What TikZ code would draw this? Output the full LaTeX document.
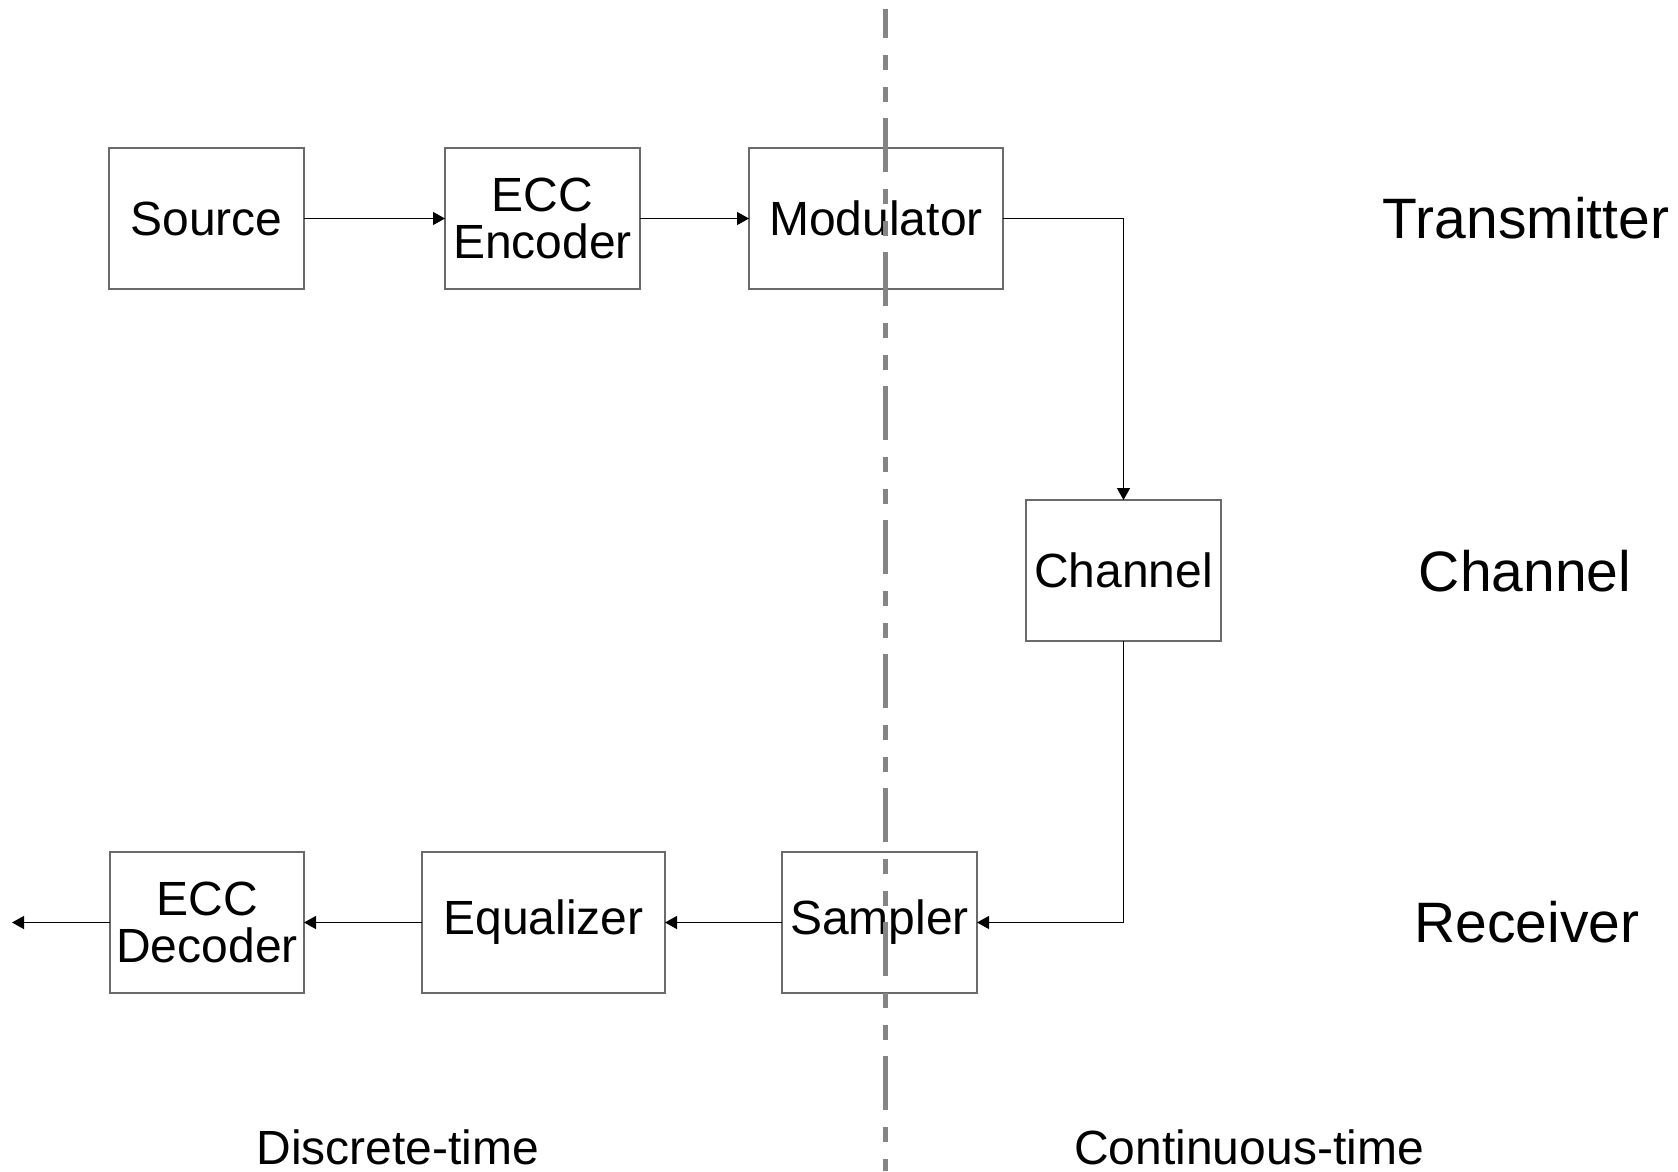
\documentclass[tikz,border=0pt]{standalone}
\usepackage{fontspec}
\setmainfont{Liberation Sans}
\usetikzlibrary{arrows.meta}
\definecolor{boxgray}{HTML}{6A6A6A}
\definecolor{divgray}{HTML}{858585}
\tikzset{
  blk/.style={draw=boxgray, line width=1.4pt, fill=white, inner sep=0pt, outer sep=0pt,
    minimum height=141pt, align=center, font=\fontsize{48}{47}\selectfont},
  conn/.style={draw=black, line width=1.2pt, -{Triangle[length=12pt,width=13pt]}},
  sidelabel/.style={inner sep=0pt, font=\fontsize{57}{64}\selectfont},
  bottomlabel/.style={inner sep=0pt, font=\fontsize{48}{53}\selectfont},
  divider/.style={draw=divgray, line width=5pt,
    dash pattern=on 54pt off 17pt on 15pt off 17pt on 15pt off 16pt, dash phase=25pt}
}
\begin{document}
\begin{tikzpicture}[x=1pt,y=-1pt]
\useasboundingbox (0,0) rectangle (1678,1171);
\fill[white] (0,0) rectangle (1678,1171);

\node[blk, minimum width=195pt] (source) at (206.5,218.5) {Source};
\node[blk, minimum width=195pt] (enc) at (542.5,218.5) {ECC\\Encoder};
\node[blk, minimum width=254pt] (mod) at (876,218.5) {Modulator};
\node[blk, minimum width=195pt] (chan) at (1123.5,570.5) {Channel};
\node[blk, minimum width=195pt] (samp) at (879.5,922.5) {Sampler};
\node[blk, minimum width=243pt] (eq) at (543.5,922.5) {Equalizer};
\node[blk, minimum width=194pt] (dec) at (207,922.5) {ECC\\Decoder};
\coordinate (out) at (12,922.5);

\draw[conn] (source.east) -- (enc.west);
\draw[conn] (enc.east) -- (mod.west);
\draw[conn] (mod.east) -| (chan.north);
\draw[conn] (chan.south) |- (samp.east);
\draw[conn] (samp.west) -- (eq.east);
\draw[conn] (eq.west) -- (dec.east);
\draw[conn] (dec.west) -- (out);

\node[sidelabel] (ltx) at (1526,218) {Transmitter};
\node[sidelabel] (lch) at (1525,571) {Channel};
\node[sidelabel] (lrx) at (1527,922) {Receiver};
\node[bottomlabel] (ldt) at (398,1147) {Discrete-time};
\node[bottomlabel] (lct) at (1249,1147) {Continuous-time};

\coordinate (dtop) at (885.5,9);
\coordinate (dbot) at (885.5,1171);
\draw[divider] (dtop) -- (dbot);
\end{tikzpicture}
\end{document}
